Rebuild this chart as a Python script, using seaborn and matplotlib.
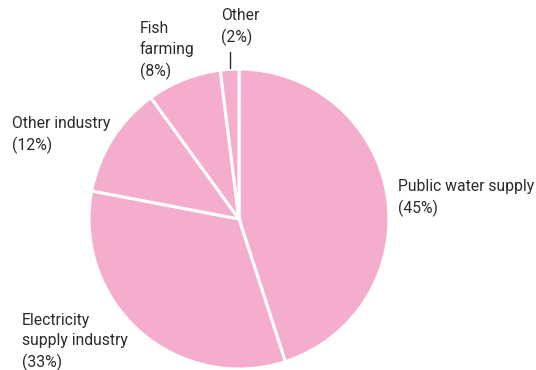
import matplotlib
matplotlib.use("Agg")
import matplotlib.pyplot as plt
import seaborn as sns

sns.set_theme(style="white")
plt.rcParams['font.family'] = ['Roboto', 'DejaVu Sans']

categories = ["Public water supply", "Electricity\nsupply industry", "Other industry", "Fish\nfarming", "Other"]
values = [45, 33, 12, 8, 2]

W, H = 536, 370
fig = plt.figure(figsize=(W / 100, H / 100), dpi=100)
ax = fig.add_axes([0, 0, 1, 1])

pink = "#F5ADCE"
cx, cy, r = 239, H - 219, 150
ax.pie(values, startangle=90, counterclock=False, colors=[pink] * len(values),
       center=(cx, cy), radius=r, frame=True,
       wedgeprops=dict(edgecolor="white", linewidth=2.2))
ax.set_xlim(0, W)
ax.set_ylim(0, H)
ax.axis("off")

# label positions (pixel coords, top-left)
label_pos = [(398, 179), (22, 313), (12, 116), (140, 21), (221, 8)]
for cat, v, (x, y) in zip(categories, values, label_pos):
    ax.text(x, H - y, f"{cat}\n({v}%)", ha="left", va="top", fontsize=11.3,
            color="#2b2b2b", linespacing=1.42)

# leader line for "Other"
ax.plot([230, 230], [H - 52, H - 68], color="#2b2b2b", lw=1)

fig.savefig("out.png", dpi=100)
